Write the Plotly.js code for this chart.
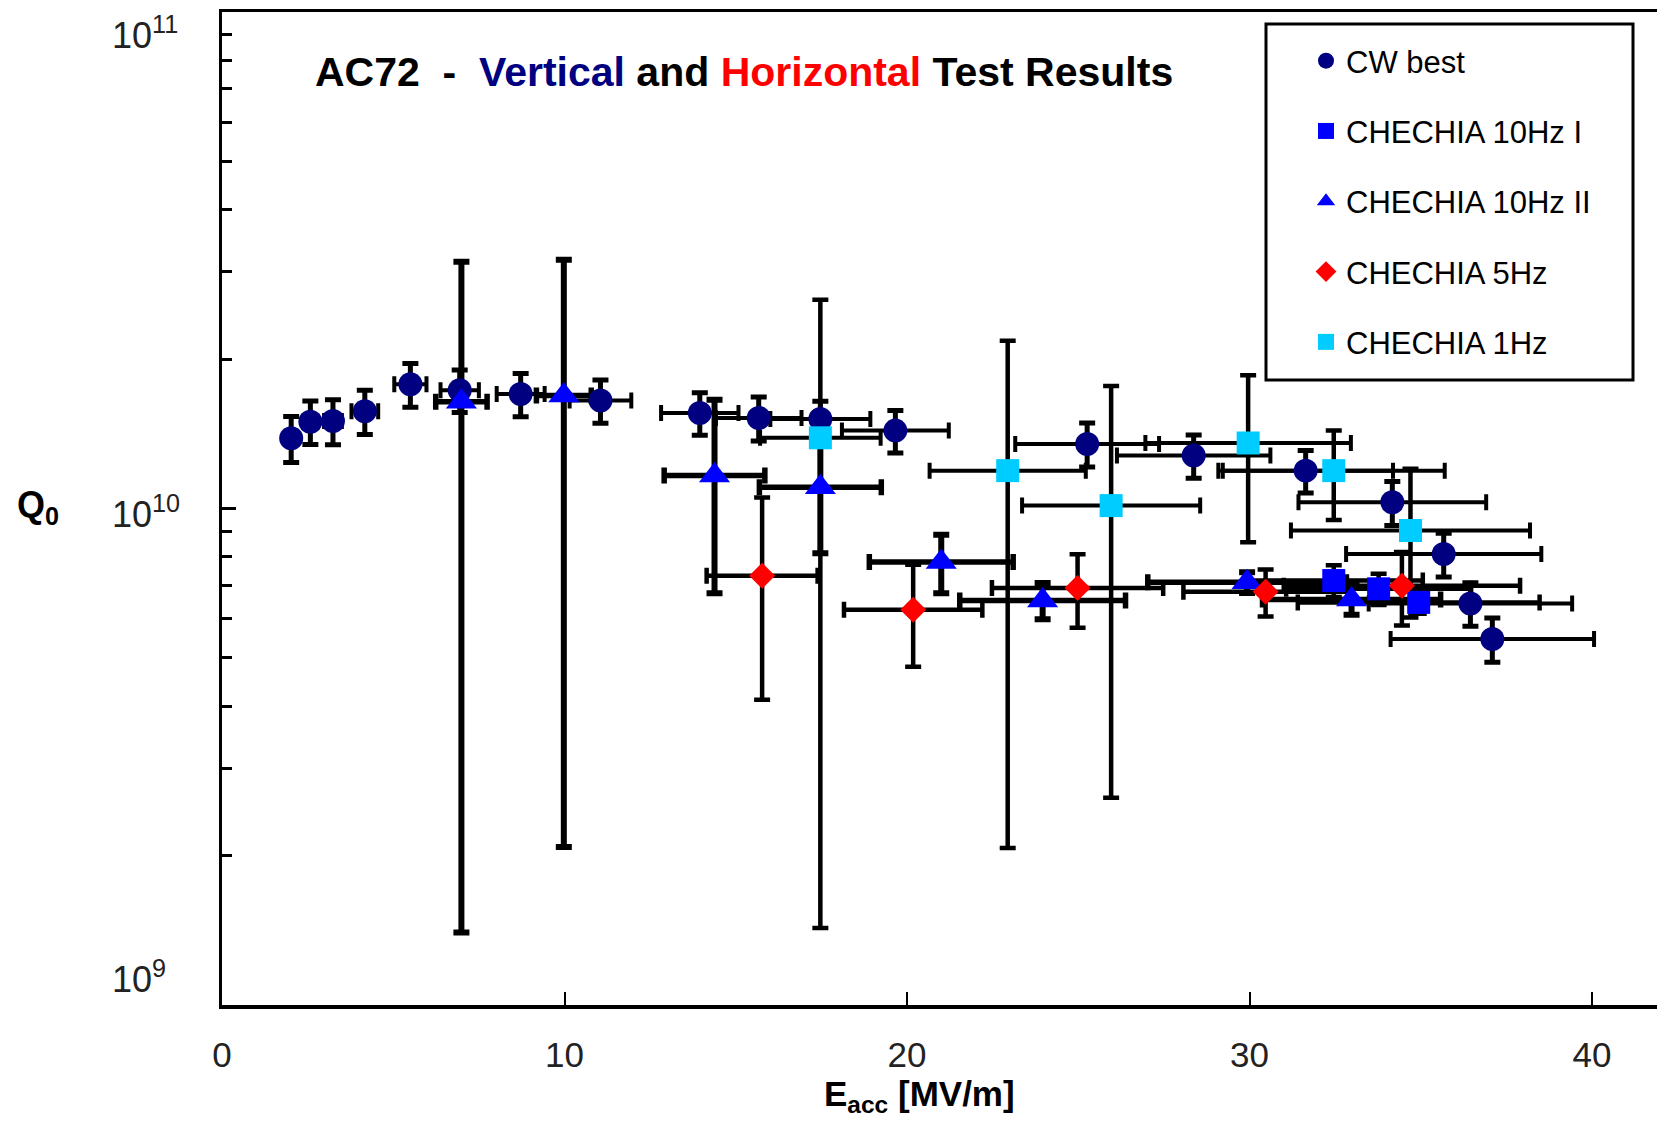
<!DOCTYPE html>
<html>
<head>
<meta charset="utf-8">
<script src="https://cdn.plot.ly/plotly-3.0.1.min.js"></script>
<style>html,body{margin:0;padding:0;background:#fff;}#chart{width:1657px;height:1123px;}</style>
</head>
<body>
<div id="chart"></div>
<script>
// ---- data ----
const seriesNames = ['CW best', 'CHECHIA 10Hz I', 'CHECHIA 10Hz II', 'CHECHIA 5Hz', 'CHECHIA 1Hz'];

const cwX    = [2.02, 2.58, 3.24, 4.17, 5.50, 6.94, 8.72, 11.05, 13.95, 15.67, 17.47, 19.66, 25.26, 28.37, 31.64, 34.17, 35.67, 36.45, 37.09];
const cwQ    = [1.385e10, 1.496e10, 1.50e10, 1.57e10, 1.78e10, 1.73e10, 1.70e10, 1.65e10, 1.558e10, 1.522e10, 1.515e10, 1.435e10, 1.349e10, 1.278e10, 1.192e10, 1.029e10, 8.10e9, 6.44e9, 5.46e9];
const cwErrQ = [1.47e9, 1.50e9, 1.56e9, 1.60e9, 1.80e9, 1.70e9, 1.70e9, 1.65e9, 1.53e9, 1.55e9, 1.30e9, 1.41e9, 1.37e9, 1.28e9, 1.17e9, 1.05e9, 0.82e9, 0.65e9, 0.56e9];
const cwErrE = [0.16, 0.21, 0.26, 0.39, 0.47, 0.56, 0.70, 0.90, 1.13, 1.25, 1.46, 1.56, 2.10, 2.24, 2.55, 2.74, 2.85, 2.97, 2.97];

const hz10aX    = [32.46, 33.77, 34.94];
const hz10aQ    = [7.16e9, 6.89e9, 6.47e9];
const hz10aErrQ = [0.53e9, 0.50e9, 0.33e9];
const hz10aErrE = [2.60, 2.70, 3.53];

const hz10bX    = [6.99, 9.98, 14.38, 17.47, 21.00, 23.96, 29.93, 32.98];
const hz10bQ    = [1.64e10, 1.688e10, 1.165e10, 1.103e10, 7.80e9, 6.53e9, 7.10e9, 6.56e9];
const hz10bErrQ = [1.50e10, 1.48e10, 0.49e10, 0.29e10, 1.05e9, 0.55e9, 0.34e9, 0.45e9];
const hz10bErrE = [0.75, 0.80, 1.47, 1.78, 2.10, 2.42, 2.90, 2.60];

const hz5X    = [15.77, 20.18, 24.98, 30.47, 34.45];
const hz5Q    = [7.32e9, 6.25e9, 6.92e9, 6.80e9, 6.99e9];
const hz5ErrQ = [3.20e9, 1.45e9, 1.17e9, 0.74e9, 1.18e9];
const hz5ErrE = [1.62, 2.02, 2.50, 2.40, 3.45];

const hz1X    = [17.47, 22.94, 25.96, 29.96, 32.46, 34.70];
const hz1Q    = [1.388e10, 1.192e10, 1.0135e10, 1.355e10, 1.192e10, 9.03e9];
const hz1ErrQ = [1.245e10, 0.985e10, 0.752e10, 0.50e10, 0.244e10, 0.30e10];
const hz1ErrE = [1.76, 2.28, 2.60, 3.00, 3.24, 3.49];

const xTickVals = [0, 10, 20, 30, 40];
const xTickText = ['0', '10', '20', '30', '40'];
const yDecades  = [1e9, 1e10, 1e11];
const yTickText = ['10<sup>9</sup>', '10<sup>10</sup>', '10<sup>11</sup>'];
const yMinorVals = [2e9, 3e9, 4e9, 5e9, 6e9, 7e9, 8e9, 9e9, 2e10, 3e10, 4e10, 5e10, 6e10, 7e10, 8e10, 9e10];

// ---- styles ----
const FONT = 'Liberation Sans, Arial, Helvetica, sans-serif';
const series = [
  {name: seriesNames[0], x: cwX,    y: cwQ,    ey: cwErrQ,    ex: cwErrE,    color: '#000080', symbol: 'circle',      size: 24, tY: 5,   tX: 4},
  {name: seriesNames[1], x: hz10aX, y: hz10aQ, ey: hz10aErrQ, ex: hz10aErrE, color: '#0000FF', symbol: 'square',      size: 23, tY: 4.5, tX: 4.5},
  {name: seriesNames[2], x: hz10bX, y: hz10bQ, ey: hz10bErrQ, ex: hz10bErrE, color: '#0000FF', symbol: 'triangle-up', size: 27, tY: 6,   tX: 5.5},
  {name: seriesNames[3], x: hz5X,   y: hz5Q,   ey: hz5ErrQ,   ex: hz5ErrE,   color: '#FF0000', symbol: 'diamond',     size: 20, tY: 4.5, tX: 4.5},
  {name: seriesNames[4], x: hz1X,   y: hz1Q,   ey: hz1ErrQ,   ex: hz1ErrE,   color: '#00CCFF', symbol: 'square',      size: 23, tY: 4.5, tX: 4}
];

const traces = [];
// error bars first (all under all markers)
series.forEach(s => {
  traces.push({
    type: 'scatter', mode: 'markers', x: s.x, y: s.y, showlegend: false, hoverinfo: 'skip',
    marker: {size: 2, opacity: 0},
    error_y: {type: 'data', array: s.ey, symmetric: true, color: '#000', thickness: s.tY, width: 8},
    error_x: {type: 'data', array: s.ex, symmetric: true, color: '#000', thickness: s.tX, width: 8}
  });
});
series.forEach((s, i) => {
  traces.push({
    type: 'scatter', mode: 'markers', name: s.name, x: s.x, y: s.y,
    legendgroup: 'g' + i,
    marker: {symbol: s.symbol, size: s.size, color: s.color, line: {width: 0}}
  });
});

const L = 222, T = 12, B = 118, W = 1657, H = 1123;
const PW = W - L, PH = H - T - B;
const px = v => (v - L) / PW;          // page pixel -> paper x
const py = v => (H - B - v) / PH;      // page pixel -> paper y

const annotations = [
  {xref: 'paper', yref: 'paper', x: px(313), y: py(72), xanchor: 'left', yanchor: 'middle', showarrow: false,
   text: '<b>AC72\u00a0\u00a0-\u00a0\u00a0<span style="color:#000080">Vertical</span> and <span style="color:#FF0000">Horizontal</span> Test Results</b>',
   font: {family: FONT, size: 41, color: '#000'}},
  {xref: 'paper', yref: 'paper', x: px(919), y: py(1096), xanchor: 'center', yanchor: 'middle', showarrow: false,
   text: '<b>E<sub>acc</sub> [MV/m]</b>', font: {family: FONT, size: 35, color: '#000'}},
  {xref: 'paper', yref: 'paper', x: px(38), y: py(507), xanchor: 'center', yanchor: 'middle', showarrow: false,
   text: '<b>Q<sub>0</sub></b>', font: {family: FONT, size: 36, color: '#000'}}
];
const yLabelPix = [977, 512, 33];
yDecades.forEach((v, i) => {
  annotations.push({xref: 'paper', yref: 'paper', x: px(110), y: py(yLabelPix[i]), xanchor: 'left', yanchor: 'middle',
    showarrow: false, text: yTickText[i], font: {family: FONT, size: 36, color: '#222'}});
});

const layout = {
  width: W, height: H,
  margin: {l: L, r: 0, t: T, b: B, pad: 0},
  paper_bgcolor: '#fff', plot_bgcolor: '#fff',
  font: {family: FONT, color: '#000'},
  showlegend: true,
  legend: {x: px(1306), y: py(34), xanchor: 'left', yanchor: 'top', bgcolor: 'rgba(0,0,0,0)', borderwidth: 0,
           font: {family: FONT, size: 31, color: '#000'}, traceorder: 'grouped', tracegroupgap: 27},
  xaxis: {range: [0, PW / 34.25], showline: true, linecolor: '#000', linewidth: 3.5, mirror: true,
          ticks: 'inside', ticklen: 13, tickwidth: 2, tickcolor: '#000',
          tickmode: 'array', tickvals: xTickVals, ticktext: xTickText, ticklabelstandoff: 16,
          tickfont: {family: FONT, size: 35, color: '#222'}, showgrid: false, zeroline: false},
  yaxis: {type: 'log', range: [9, 11], showline: true, linecolor: '#000', linewidth: 3.5, mirror: false,
          ticks: 'inside', ticklen: 14, tickwidth: 3, tickcolor: '#000',
          tickmode: 'array', tickvals: yDecades, showticklabels: false, showgrid: false, zeroline: false,
          minor: {tickmode: 'array', tickvals: yMinorVals, ticks: 'inside', ticklen: 10, tickwidth: 3, tickcolor: '#000', showgrid: false}},
  shapes: [
    {type: 'rect', xref: 'paper', yref: 'paper', x0: px(1266), x1: px(1633), y0: py(380), y1: py(24),
     line: {color: '#000', width: 3}, fillcolor: '#fff', layer: 'below'}
  ],
  annotations: annotations
};

Plotly.newPlot('chart', traces, layout, {displayModeBar: false, staticPlot: true});
</script>
</body>
</html>
